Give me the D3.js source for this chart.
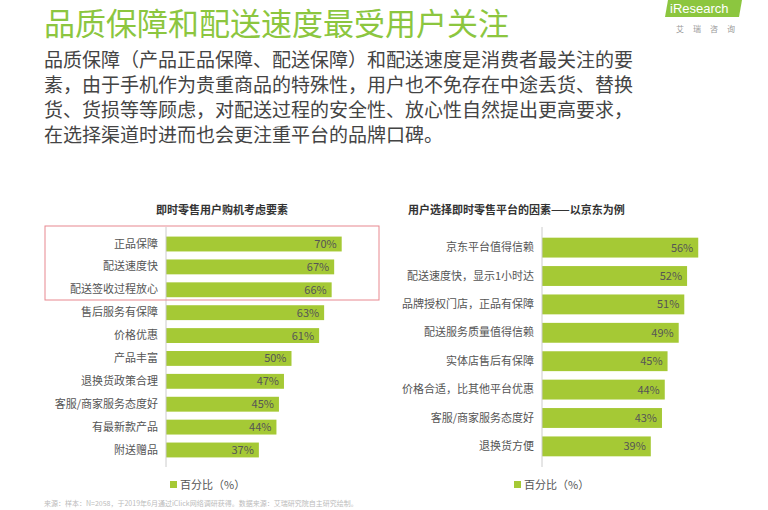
<!DOCTYPE html>
<html><head><meta charset="utf-8">
<script src="https://cdn.jsdelivr.net/npm/d3@7"></script>
<style>body{margin:0;background:#fff;font-family:"Noto Sans CJK SC",sans-serif}</style>
</head><body><svg id="c" width="768" height="510"></svg>
<script>
var leftCats = ["正品保障","配送速度快","配送签收过程放心","售后服务有保障","价格优惠","产品丰富","退换货政策合理","客服/商家服务态度好","有最新款产品","附送赠品"];
var leftVals = [70,67,66,63,61,50,47,45,44,37];
var rightCats = ["京东平台值得信赖","配送速度快，显示1小时达","品牌授权门店，正品有保障","配送服务质量值得信赖","实体店售后有保障","价格合适，比其他平台优惠","客服/商家服务态度好","退换货方便"];
var rightVals = [56,52,51,49,45,44,43,39];
var para = ["品质保障（产品正品保障、配送保障）和配送速度是消费者最关注的要","素，由于手机作为贵重商品的特殊性，用户也不免存在中途丢货、替换","货、货损等等顾虑，对配送过程的安全性、放心性自然提出更高要求，","在选择渠道时进而也会更注重平台的品牌口碑。"];

var svg = d3.select("#c");
var green = "#a5c935";

svg.append("text").attr("x",44).attr("y",35).attr("font-size",31).attr("fill","#8cc63f").text("品质保障和配送速度最受用户关注");
para.forEach(function(t,i){
  svg.append("text").attr("x",44).attr("y",67+i*25).attr("font-size",19).attr("fill","#444").text(t);
});
// logo
svg.append("path").attr("d","M668,0 L742,0 L739,17 L665,17 Z").attr("fill","#8cc63f");
svg.append("text").attr("x",670).attr("y",13).attr("font-size",13).attr("fill","#fff").attr("font-family","Arial").text("iResearch");
svg.append("text").attr("x",676).attr("y",32).attr("font-size",8).attr("fill","#999").attr("letter-spacing",9).text("艾瑞咨询");

function chart(cats, vals, x0, pxPer, yTop, yBot, pad, title, tx) {
  var y = d3.scaleBand().domain(cats).range([yTop,yBot]).paddingInner(pad).paddingOuter(0.2);
  var x = d3.scaleLinear().domain([0,100]).range([x0, x0+pxPer*100]);
  svg.append("text").attr("x",tx).attr("y",yTop-18).attr("font-size",11).attr("font-weight","bold").attr("fill","#333").text(title);
  svg.selectAll(null).data(vals).enter().append("rect")
    .attr("x",x(0)).attr("y",function(d,i){return y(cats[i]);})
    .attr("width",function(d){return x(d)-x(0);}).attr("height",y.bandwidth()).attr("fill",green);
  svg.selectAll(null).data(vals).enter().append("text")
    .attr("x",function(d){return x(d)-5;}).attr("y",function(d,i){return y(cats[i])+y.bandwidth()/2+4;})
    .attr("text-anchor","end").attr("font-size",11).attr("fill","#555").text(function(d){return d+"%";});
  var ax = svg.append("g").attr("transform","translate("+x0+",0)").call(d3.axisLeft(y).tickSize(0).tickPadding(8));
  ax.select(".domain").attr("stroke","#ccc").attr("d","M0,"+(yTop-5)+"V"+(yBot+5));
  ax.selectAll("text").attr("font-size",11).attr("fill","#555").attr("font-family","Noto Sans CJK SC");
}
chart(leftCats,leftVals,166,2.51,232,462,0.35,"即时零售用户购机考虑要素",156);
chart(rightCats,rightVals,542,2.79,232,462,0.3,"用户选择即时零售平台的因素——以京东为例",408);

svg.append("rect").attr("x",45).attr("y",226).attr("width",334).attr("height",74).attr("fill","none").attr("stroke","#e8888f").attr("stroke-width",1);

[[170,"百分比（%）"],[514,"百分比（%）"]].forEach(function(l){
  svg.append("rect").attr("x",l[0]).attr("y",481).attr("width",7).attr("height",7).attr("fill",green);
  svg.append("text").attr("x",l[0]+10).attr("y",489).attr("font-size",11).attr("fill","#555").text(l[1]);
});
svg.append("text").attr("x",44).attr("y",506).attr("font-size",7).attr("fill","#bbb").text("来源：样本：N=2058，于2019年6月通过iClick网络调研获得。数据来源：艾瑞研究院自主研究绘制。");
</script></body></html>
